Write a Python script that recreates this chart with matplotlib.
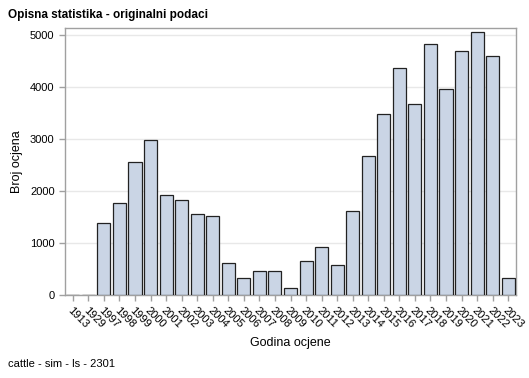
import numpy as np
import matplotlib.pyplot as plt

plt.rcParams['font.family'] = ['Liberation Sans', 'DejaVu Sans']

years = ['1913', '1929', '1997', '1998', '1999', '2000', '2001', '2002', '2003',
         '2004', '2005', '2006', '2007', '2008', '2009', '2010', '2011', '2012',
         '2013', '2014', '2015', '2016', '2017', '2018', '2019', '2020', '2021',
         '2022', '2023']
counts = [8, 6, 1380, 1760, 2550, 2980, 1920, 1830, 1560,
          1510, 610, 330, 470, 460, 140, 650, 920, 570,
          1610, 2680, 3490, 4360, 3680, 4820, 3970, 4700, 5050,
          4600, 320]

fig = plt.figure(figsize=(5.29, 3.78), dpi=100)
ax = fig.add_axes([65 / 529, 1 - 295 / 378, 451 / 529, 267 / 378])

x = np.arange(len(years))
ax.bar(x, counts, width=0.84, color='#CAD5E5', edgecolor='#222222', linewidth=0.9, zorder=3)

ax.set_xlim(-0.5, len(years) - 0.5)
ax.set_ylim(0, 5135)
ax.set_yticks([0, 1000, 2000, 3000, 4000, 5000])
ax.grid(axis='y', color='#e8e8e8', linewidth=1, zorder=0)

for s in ax.spines.values():
    s.set_color('#a0a0a0')
    s.set_linewidth(1)

ax.tick_params(axis='both', colors='#a0a0a0', labelcolor='black', labelsize=8, length=4, width=1)
ax.set_xticks(x)
ax.set_xticklabels(years, rotation=-45, ha='left', va='top', rotation_mode='anchor')

ax.set_ylabel('Broj ocjena', fontsize=9, labelpad=5)
ax.set_xlabel('Godina ocjene', fontsize=9, labelpad=5)

fig.text(8 / 529, 1 - 15 / 378, 'Opisna statistika - originalni podaci',
         fontsize=8.5, weight='bold', va='center', ha='left')
fig.text(8 / 529, 1 - 364 / 378, 'cattle - sim - ls - 2301',
         fontsize=8, va='center', ha='left')

fig.savefig('out.png', dpi=100)
